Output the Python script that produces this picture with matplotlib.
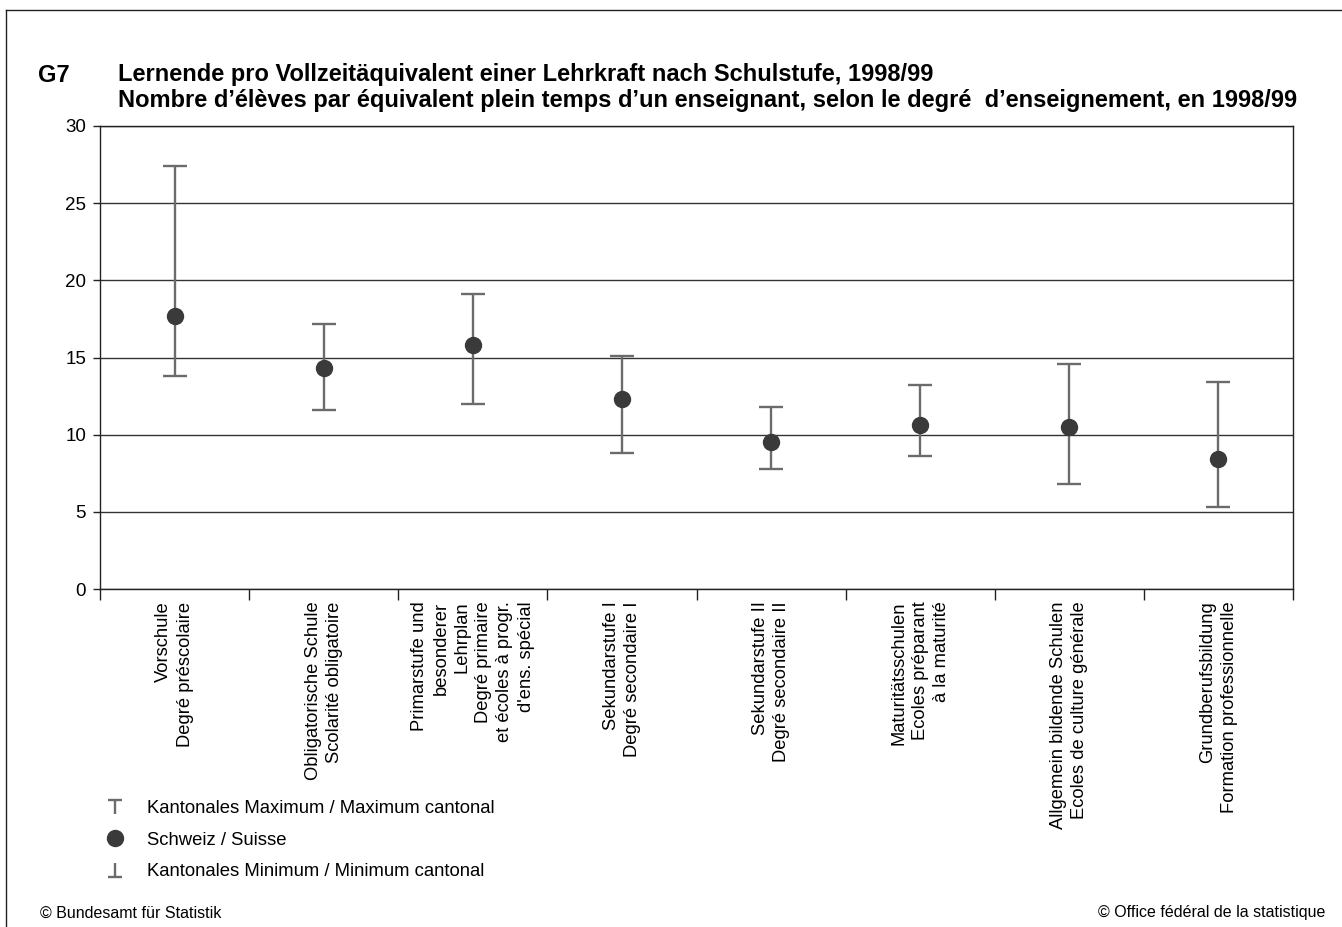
import matplotlib
matplotlib.use("Agg")
import matplotlib.pyplot as plt
from matplotlib.lines import Line2D
from matplotlib.path import Path
import numpy as np

plt.rcParams['font.family'] = ['Liberation Sans', 'DejaVu Sans']

categories = [
    "Vorschule\nDegré préscolaire",
    "Obligatorische Schule\nScolarité obligatoire",
    "Primarstufe und\nbesonderer\nLehrplan\nDegré primaire\net écoles à progr.\nd'ens. spécial",
    "Sekundarstufe I\nDegré secondaire I",
    "Sekundarstufe II\nDegré secondaire II",
    "Maturitätsschulen\nEcoles préparant\nà la maturité",
    "Allgemein bildende Schulen\nEcoles de culture générale",
    "Grundberufsbildung\nFormation professionnelle",
]
swiss = [17.7, 14.3, 15.8, 12.3, 9.5, 10.6, 10.5, 8.4]
cant_max = [27.4, 17.2, 19.1, 15.1, 11.8, 13.2, 14.6, 13.4]
cant_min = [13.8, 11.6, 12.0, 8.8, 7.8, 8.6, 6.8, 5.3]
yticks = [0, 5, 10, 15, 20, 25, 30]

W, H = 1342, 927
fig = plt.figure(figsize=(W/100, H/100), dpi=100)
ax = fig.add_axes([100/W, 1-589/H, (1293-100)/W, (589-126)/H])

x = np.arange(len(categories))
sw = np.array(swiss); mx = np.array(cant_max); mn = np.array(cant_min)
ax.errorbar(x, sw, yerr=[sw-mn, mx-sw], fmt='none', ecolor='#6b6b6b',
            elinewidth=1.7, capsize=8.5, capthick=1.7, zorder=3)
ax.plot(x, sw, 'o', color='#3a3a3a', markersize=11.5, zorder=4, linestyle='none')

ax.set_xlim(-0.5, len(categories)-0.5)
ax.set_ylim(0, 30)
ax.set_yticks(yticks)
ax.set_yticklabels([str(v) for v in yticks], fontsize=13.5)
ax.yaxis.grid(True, color='#333333', linewidth=1)
ax.set_axisbelow(True)
for s in ['left', 'bottom', 'right', 'top']:
    ax.spines[s].set_color('#222222')
    ax.spines[s].set_linewidth(1)
ax.tick_params(axis='y', length=5, width=1, color='#222222', pad=5)
ax.set_xticks(x)
ax.set_xticklabels(categories, rotation=90, fontsize=13.2, va='top', ha='center',
                   multialignment='right', linespacing=1.33)
ax.tick_params(axis='x', length=0, pad=9)
ax.set_xticks(np.arange(-0.5, len(categories), 1.0), minor=True)
ax.tick_params(axis='x', which='minor', length=8, width=1, color='#222222', direction='out')

# Title
fig.text(38/W, 1-75/H, "G7", fontsize=17, fontweight='bold', va='center', ha='left')
fig.text(118/W, 1-75/H, "Lernende pro Vollzeitäquivalent einer Lehrkraft nach Schulstufe, 1998/99",
         fontsize=17, fontweight='bold', va='center', ha='left')
fig.text(118/W, 1-100/H, "Nombre d’élèves par équivalent plein temps d’un enseignant, selon le degré  d’enseignement, en 1998/99",
         fontsize=17, fontweight='bold', va='center', ha='left')

# Legend
top_marker = Path([(-1, 1), (1, 1), (0, 1), (0, -1)],
                  [Path.MOVETO, Path.LINETO, Path.MOVETO, Path.LINETO])
bot_marker = Path([(-1, -1), (1, -1), (0, -1), (0, 1)],
                  [Path.MOVETO, Path.LINETO, Path.MOVETO, Path.LINETO])
handles = [
    Line2D([], [], linestyle='none', marker=top_marker, markersize=10,
           markeredgecolor='#6b6b6b', markeredgewidth=1.7),
    Line2D([], [], linestyle='none', marker='o', markersize=11.5, color='#3a3a3a'),
    Line2D([], [], linestyle='none', marker=bot_marker, markersize=10,
           markeredgecolor='#6b6b6b', markeredgewidth=1.7),
]
labels = ["Kantonales Maximum / Maximum cantonal", "Schweiz / Suisse",
          "Kantonales Minimum / Minimum cantonal"]
fig.legend(handles, labels, loc='upper left', bbox_to_anchor=(92/W, 1-791/H),
           frameon=False, fontsize=13.3, handlelength=1.5, handletextpad=1.0,
           labelspacing=0.78, borderpad=0)

# Footer
fig.text(40/W, 1-913/H, "© Bundesamt für Statistik", fontsize=11.5, va='center', ha='left')
fig.text(1325/W, 1-913/H, "© Office fédéral de la statistique", fontsize=11.5, va='center', ha='right')

# Outer frame lines
fig.add_artist(Line2D([6/W, 6/W], [0, 1-10/H], transform=fig.transFigure, color='#222222', lw=1))
fig.add_artist(Line2D([6/W, 1], [1-10/H, 1-10/H], transform=fig.transFigure, color='#222222', lw=1))

fig.savefig("out.png", dpi=100)
